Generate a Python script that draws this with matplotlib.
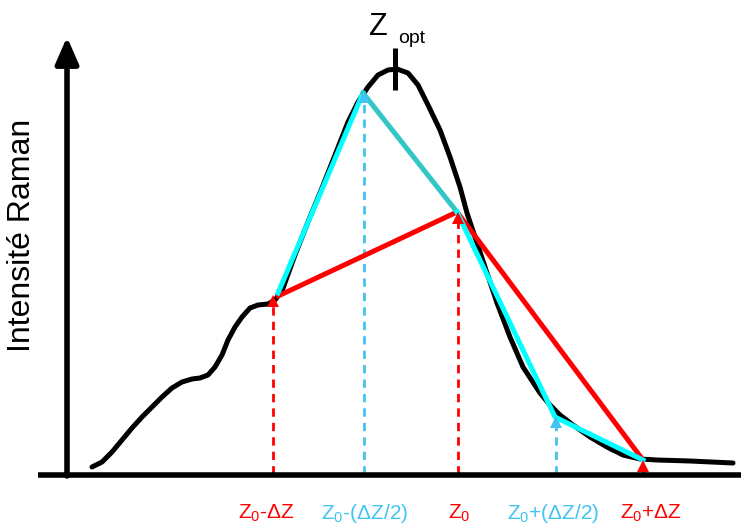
import matplotlib
matplotlib.use("Agg")
import matplotlib.pyplot as plt

plt.rcParams['font.family'] = ['Liberation Sans', 'DejaVu Sans']
plt.rcParams['mathtext.fontset'] = 'custom'
plt.rcParams['mathtext.rm'] = 'Liberation Sans'
plt.rcParams['mathtext.it'] = 'Liberation Sans'

# Raman intensity profile (pixel coordinates, y down)
curve_x = [92, 102, 112, 122, 132, 142, 152, 162, 172, 182, 192, 200, 208, 215,
           222, 228, 235, 242, 250, 258, 268, 275, 282,
           295, 308, 322, 335, 348, 358, 368, 378, 388, 397, 408, 418, 428,
           440, 450, 460, 467, 477, 487, 497, 510, 523, 540, 550, 560, 573,
           590, 607, 623, 640, 657, 690, 733]
curve_y = [467, 462, 452, 440, 428, 417, 407, 397, 388, 382, 379, 378, 375, 367,
           355, 340, 327, 317, 308, 305, 304, 300, 291,
           255, 222, 188, 155, 122, 102, 87, 75, 70, 69, 73, 85, 105,
           130, 157, 187, 213, 243, 273, 303, 337, 367, 393, 405, 415, 425,
           437, 447, 455, 459, 460, 461, 463]

# sampled positions
red_x = [276, 457, 643]
red_y = [297, 212, 460]
cyan_x = [278, 363, 457, 555, 643]
cyan_y = [293, 93, 212, 417, 460]

z_pos = [273, 364, 458, 556, 643]
z_top = [297, 93, 214, 418, 462]
z_labels = [r'Z$_0$-ΔZ', r'Z$_0$-(ΔZ/2)', r'Z$_0$', r'Z$_0$+(ΔZ/2)', r'Z$_0$+ΔZ']
z_label_x = [266, 365, 459, 553, 651]

RED = '#ff0000'
CYAN = '#00ffff'
TEAL = '#33c6c6'
LBLUE = '#40c4f2'
z_colors = [RED, LBLUE, RED, LBLUE, RED]

fig = plt.figure(figsize=(7.41, 5.27), dpi=100)
ax = fig.add_axes([0, 0, 1, 1])
ax.set_xlim(0, 741)
ax.set_ylim(527, 0)
ax.axis('off')

# axes
ax.plot([38, 741], [475, 475], color='k', lw=4, solid_capstyle='butt', zorder=5)
ax.annotate('', xy=(67, 37), xytext=(67, 476),
            arrowprops=dict(arrowstyle='-|>,head_length=0.8,head_width=0.35',
                            lw=4, color='k', mutation_scale=20, shrinkA=0, shrinkB=0),
            zorder=5)

# dashed verticals
for x, top, c in zip(z_pos, z_top, z_colors):
    ax.plot([x, x], [474, top + 6], color=c, lw=2, ls=(0, (3, 2.2)), zorder=2)
    ax.plot([x], [top + 4], marker='^', color=c, ms=9, mew=0, zorder=6)

# black curve
ax.plot(curve_x, curve_y, color='k', lw=3.6, solid_joinstyle='round',
        solid_capstyle='round', zorder=3)

# red polyline
ax.plot(red_x, red_y, color=RED, lw=3.6, solid_capstyle='butt', zorder=4)
# cyan polyline
ax.plot(cyan_x[:2], cyan_y[:2], color=CYAN, lw=3.6, zorder=4)
ax.plot(cyan_x[1:3], cyan_y[1:3], color=TEAL, lw=3.6, zorder=4)
ax.plot(cyan_x[2:], cyan_y[2:], color=CYAN, lw=3.6, zorder=4)

# Z_opt marker
ax.plot([395, 395], [48, 90], color='k', lw=3.6, solid_capstyle='butt', zorder=5)
ax.text(378, 35, 'Z', fontsize=22, ha='center', va='baseline')
ax.text(398, 43, 'opt', fontsize=14, ha='left', va='baseline')

# labels
for x, lab, c in zip(z_label_x, z_labels, z_colors):
    ax.text(x, 519, lab, fontsize=15, color=c, ha='center', va='baseline')

ax.text(22, 235, 'Intensité Raman', fontsize=23, rotation=90,
        ha='center', va='center')

fig.savefig('out.png', dpi=100)
